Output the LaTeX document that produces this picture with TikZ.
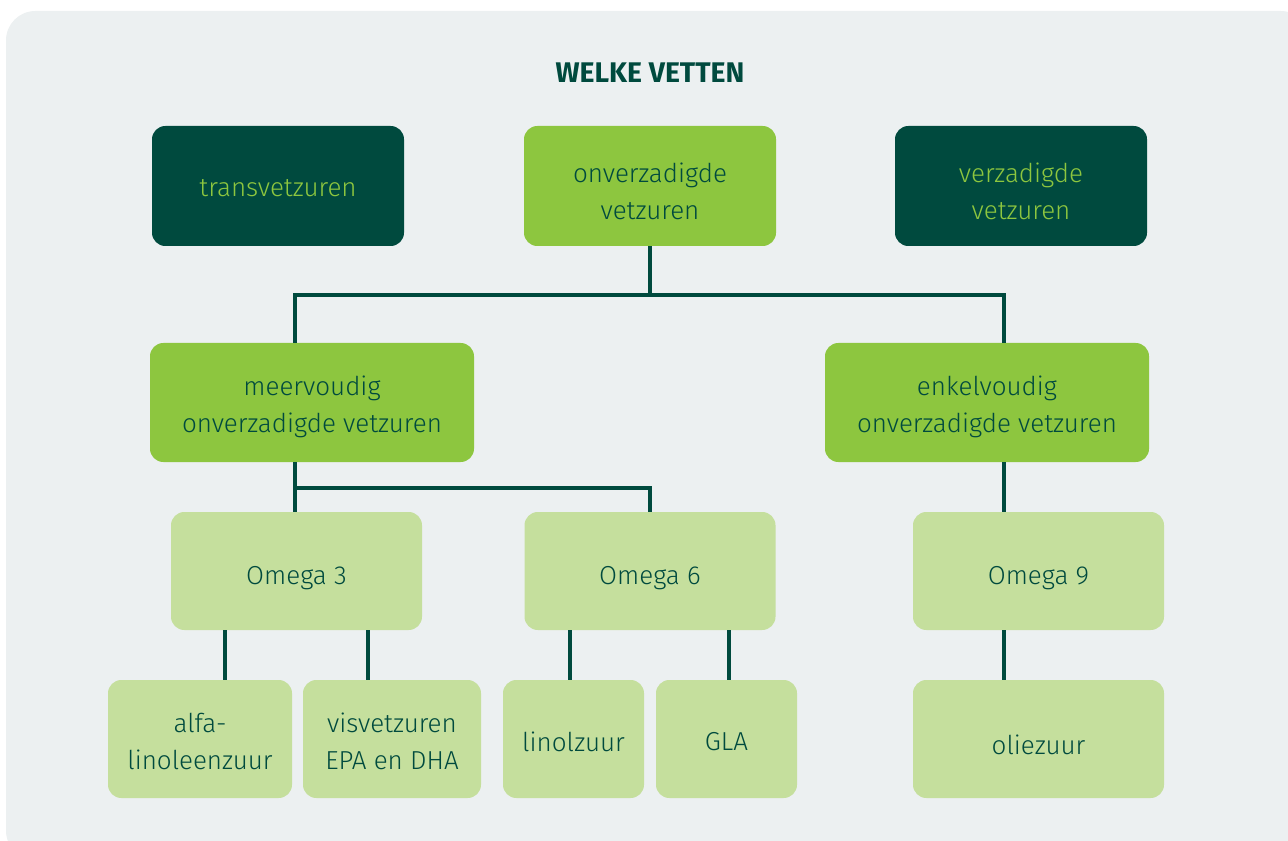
\documentclass[tikz,border=0pt]{standalone}
\usepackage{fontspec}
\setmainfont{Fira Sans}[UprightFont=* Light, BoldFont=* Bold]
\definecolor{dkgreen}{HTML}{004A3E}
\definecolor{midgreen}{HTML}{8DC63F}
\definecolor{ltgreen}{HTML}{C5DF9D}
\definecolor{bggray}{HTML}{ECF0F1}
\begin{document}
\begin{tikzpicture}[x=0.75pt,y=-0.75pt,
  box/.style={rounded corners=10pt, inner sep=0pt},
  darkbox/.style={box, fill=dkgreen},
  midbox/.style={box, fill=midgreen},
  lightbox/.style={box, fill=ltgreen},
  lbl/.style={align=center, inner sep=0pt, font=\fontsize{19.5}{27.75}\selectfont, text=dkgreen},
  darklbl/.style={lbl, text=midgreen},
  link/.style={draw=dkgreen, line width=2.4pt}]
\useasboundingbox (0,0) rectangle (1288,841);
\fill[bggray, rounded corners=22pt] (6,11) rectangle (1310,860);
\node[text=dkgreen, font=\bfseries\fontsize{21.3}{24}\selectfont] (title) at (650,73) {WELKE VETTEN};
% #1 box style, #2 name, #3 text, #4 width, #5 height, #6 x, #7 y, #8 text shift, #9 label style
\newcommand{\mybox}[9]{\node[#1, minimum width=#4*0.75pt, minimum height=#5*0.75pt] (#2) at (#6,#7) {};
  \node[#9] (#2t) at (#6,#7+#8) {#3};}
\mybox{darkbox}{trans}{transvetzuren}{252}{120}{278}{186}{2}{darklbl}
\mybox{midbox}{onv}{onverzadigde\\vetzuren}{252}{120}{650}{186}{5}{lbl}
\mybox{darkbox}{verz}{verzadigde\\vetzuren}{252}{120}{1021}{186}{5}{darklbl}
\mybox{midbox}{meer}{meervoudig\\onverzadigde vetzuren}{324}{119}{312}{402.5}{4}{lbl}
\mybox{midbox}{enkel}{enkelvoudig\\onverzadigde vetzuren}{324}{119}{987}{402.5}{4}{lbl}
\mybox{lightbox}{om3}{Omega 3}{251}{118}{296.5}{571}{7}{lbl}
\mybox{lightbox}{om6}{Omega 6}{251}{118}{650}{571}{7}{lbl}
\mybox{lightbox}{om9}{Omega 9}{251}{118}{1038.5}{571}{7}{lbl}
\mybox{lightbox}{alfa}{alfa-\\linoleenzuur}{184}{118}{200}{739}{2}{lbl}
\mybox{lightbox}{vis}{visvetzuren\\EPA en DHA}{178}{118}{392}{739}{2}{lbl}
\mybox{lightbox}{lino}{linolzuur}{141}{118}{573.5}{739}{3}{lbl}
\mybox{lightbox}{gla}{GLA}{141}{118}{726.5}{739}{3}{lbl}
\mybox{lightbox}{olie}{oliezuur}{251}{118}{1038.5}{739}{6}{lbl}
% connectors
\coordinate (j1) at (650,295);
\coordinate (j2) at (650,488);
\draw[link] (onv.south) -- (j1);
\draw[link] (j1) -| (meer.north -| 295,0);
\draw[link] (j1) -| (enkel.north -| 1004,0);
\draw[link] (meer.south -| 295,0) -- (om3.north -| 295,0);
\draw[link] (meer.south -| 295,0) |- (j2) -- (om6.north);
\draw[link] (enkel.south -| 1004,0) -- (om9.north -| 1004,0);
\draw[link] (om3.south -| 225,0) -- (alfa.north -| 225,0);
\draw[link] (om3.south -| 368,0) -- (vis.north -| 368,0);
\draw[link] (om6.south -| 570,0) -- (lino.north -| 570,0);
\draw[link] (om6.south -| 729,0) -- (gla.north -| 729,0);
\draw[link] (om9.south -| 1004,0) -- (olie.north -| 1004,0);
\end{tikzpicture}
\end{document}
